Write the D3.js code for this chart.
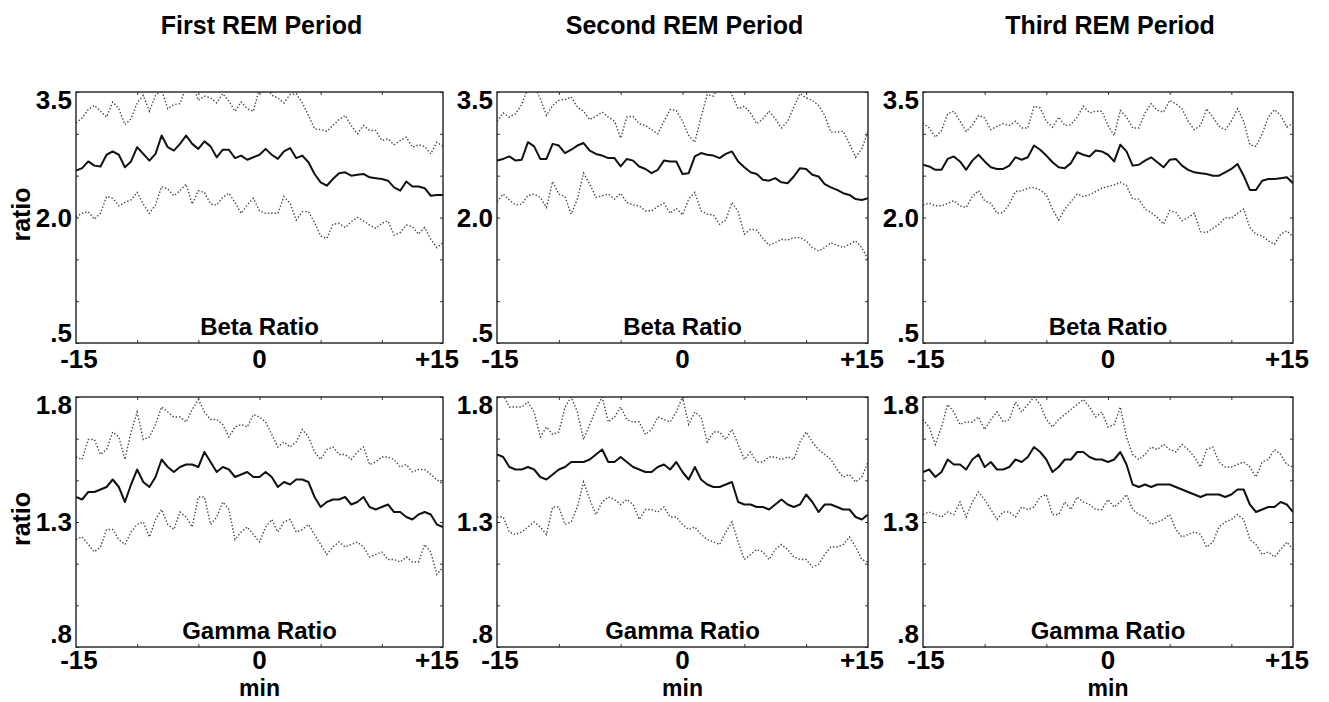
<!DOCTYPE html>
<html>
<head>
<meta charset="utf-8">
<script src="https://cdn.jsdelivr.net/npm/d3@7"></script>
<style>
  body { margin: 0; background: #fff; }
  svg { font-family: "Liberation Sans", Arial, sans-serif; font-weight: bold; }
</style>
</head>
<body>
<div id="svg_container"></div>
<script>

const canvas = {
    w: 1329,
    h: 702
};

// x axis: minutes around REM onset, one sample every 30 s
const minutes = d3.range(-15, 15.001, 0.5);

const periods = ["First REM Period", "Second REM Period", "Third REM Period"];

// Beta ratio, mean and upper / lower bands
const beta1Mean = [2.56,2.59,2.67,2.62,2.61,2.75,2.79,2.75,2.60,2.67,2.84,2.76,2.68,2.76,2.98,2.84,2.80,2.88,2.98,2.88,2.82,2.91,2.85,2.72,2.81,2.81,2.71,2.74,2.69,2.72,2.75,2.82,2.75,2.70,2.79,2.83,2.71,2.74,2.66,2.52,2.42,2.38,2.46,2.53,2.54,2.50,2.51,2.52,2.48,2.47,2.46,2.44,2.36,2.32,2.43,2.37,2.37,2.35,2.26,2.27,2.27];
const beta1Upper = [3.13,3.19,3.29,3.34,3.27,3.20,3.38,3.30,3.11,3.18,3.37,3.46,3.27,3.46,3.52,3.30,3.35,3.36,3.56,3.60,3.40,3.45,3.43,3.37,3.48,3.39,3.27,3.38,3.30,3.27,3.55,3.60,3.46,3.43,3.37,3.47,3.48,3.37,3.22,3.06,3.05,3.03,3.10,3.17,3.22,3.10,3.00,3.10,3.04,3.04,2.92,2.94,2.87,2.92,2.96,2.84,2.87,2.85,2.76,2.90,2.85];
const beta1Lower = [2.01,2.05,2.07,1.98,2.05,2.25,2.23,2.14,2.18,2.21,2.30,2.16,2.05,2.15,2.37,2.34,2.26,2.32,2.40,2.16,2.32,2.30,2.16,2.15,2.24,2.29,2.18,2.05,2.15,2.23,2.08,2.05,2.05,2.05,2.25,2.17,1.97,2.07,2.07,1.94,1.78,1.75,1.92,1.93,1.88,1.95,2.00,1.96,1.91,1.87,1.93,1.96,1.79,1.82,1.91,1.89,1.80,1.88,1.74,1.64,1.70];

const beta2Mean = [2.68,2.70,2.73,2.68,2.69,2.90,2.85,2.70,2.70,2.88,2.86,2.77,2.81,2.86,2.89,2.80,2.76,2.74,2.71,2.71,2.61,2.70,2.68,2.61,2.58,2.53,2.57,2.68,2.67,2.67,2.52,2.53,2.73,2.77,2.75,2.74,2.71,2.76,2.79,2.67,2.60,2.54,2.52,2.45,2.44,2.47,2.42,2.41,2.49,2.59,2.58,2.51,2.49,2.40,2.36,2.33,2.29,2.27,2.22,2.21,2.23];
const beta2Upper = [3.15,3.25,3.20,3.24,3.35,3.55,3.58,3.42,3.22,3.34,3.40,3.41,3.44,3.32,3.27,3.17,3.21,3.26,3.20,3.15,2.95,3.20,3.21,3.12,3.10,3.05,3.00,3.15,3.29,3.28,3.15,2.98,2.90,3.20,3.47,3.45,3.60,3.60,3.46,3.30,3.33,3.25,3.12,3.18,3.27,3.18,3.07,3.15,3.32,3.48,3.43,3.40,3.34,3.22,3.02,3.02,3.03,2.88,2.72,2.82,3.03];
const beta2Lower = [2.19,2.28,2.21,2.15,2.16,2.26,2.28,2.24,2.12,2.43,2.28,2.25,2.04,2.22,2.53,2.40,2.24,2.26,2.28,2.22,2.29,2.18,2.15,2.14,2.08,2.08,2.13,2.17,2.05,2.11,2.03,2.22,2.30,2.08,2.04,2.03,1.92,1.97,2.18,2.07,1.80,1.86,1.85,1.75,1.67,1.70,1.74,1.73,1.76,1.76,1.72,1.64,1.60,1.64,1.70,1.67,1.64,1.68,1.72,1.64,1.50];

const beta3Mean = [2.63,2.61,2.57,2.57,2.70,2.73,2.67,2.57,2.68,2.75,2.67,2.60,2.58,2.58,2.62,2.72,2.69,2.72,2.86,2.81,2.74,2.66,2.60,2.59,2.65,2.78,2.75,2.73,2.80,2.79,2.75,2.67,2.87,2.79,2.62,2.63,2.68,2.72,2.66,2.60,2.69,2.70,2.62,2.57,2.54,2.53,2.52,2.50,2.50,2.54,2.58,2.64,2.50,2.33,2.33,2.44,2.46,2.46,2.47,2.48,2.41];
const beta3Upper = [3.13,3.07,2.96,3.04,3.24,3.27,3.15,3.03,3.10,3.22,3.19,3.05,3.09,3.12,3.10,3.15,3.07,3.07,3.33,3.31,3.15,3.08,3.20,3.10,3.11,3.20,3.33,3.25,3.27,3.27,3.10,2.98,3.28,3.20,3.07,3.07,3.25,3.36,3.28,3.26,3.40,3.36,3.30,3.15,3.05,3.10,3.30,3.20,3.09,3.05,3.15,3.30,3.15,2.87,2.85,3.00,3.20,3.29,3.22,3.08,3.13];
const beta3Lower = [2.15,2.17,2.14,2.14,2.17,2.20,2.14,2.12,2.25,2.32,2.20,2.17,2.05,2.06,2.16,2.31,2.32,2.35,2.36,2.33,2.27,2.10,1.97,2.10,2.19,2.28,2.25,2.27,2.31,2.35,2.37,2.39,2.42,2.38,2.22,2.22,2.10,2.06,2.00,1.92,2.08,2.06,1.96,2.00,2.05,1.83,1.82,1.87,1.92,2.00,1.99,2.05,2.10,1.88,1.80,1.78,1.72,1.68,1.80,1.84,1.77];

// Gamma ratio, mean and upper / lower bands
const gamma1Mean = [1.40,1.39,1.42,1.42,1.43,1.44,1.47,1.44,1.38,1.45,1.51,1.46,1.44,1.48,1.55,1.52,1.50,1.52,1.53,1.53,1.52,1.58,1.54,1.50,1.52,1.51,1.48,1.49,1.50,1.48,1.48,1.50,1.48,1.44,1.46,1.45,1.47,1.47,1.46,1.40,1.36,1.38,1.39,1.39,1.40,1.37,1.38,1.40,1.36,1.35,1.36,1.37,1.34,1.34,1.32,1.31,1.33,1.34,1.33,1.29,1.28];
const gamma1Upper = [1.56,1.55,1.63,1.63,1.57,1.59,1.66,1.64,1.55,1.66,1.74,1.63,1.64,1.69,1.76,1.74,1.72,1.72,1.70,1.75,1.79,1.74,1.71,1.71,1.69,1.64,1.68,1.69,1.68,1.73,1.72,1.70,1.65,1.60,1.62,1.60,1.62,1.67,1.64,1.58,1.55,1.59,1.60,1.57,1.57,1.55,1.58,1.60,1.53,1.54,1.56,1.56,1.55,1.52,1.53,1.50,1.51,1.51,1.49,1.47,1.45];
const gamma1Lower = [1.23,1.24,1.21,1.18,1.20,1.27,1.27,1.23,1.21,1.26,1.29,1.30,1.24,1.31,1.35,1.29,1.27,1.34,1.32,1.28,1.40,1.40,1.29,1.32,1.38,1.35,1.23,1.26,1.28,1.25,1.22,1.28,1.31,1.26,1.30,1.31,1.26,1.27,1.29,1.25,1.21,1.17,1.20,1.22,1.20,1.21,1.22,1.20,1.16,1.17,1.18,1.15,1.15,1.14,1.16,1.14,1.14,1.21,1.18,1.09,1.12];

const gamma2Mean = [1.57,1.56,1.52,1.51,1.51,1.52,1.51,1.48,1.47,1.49,1.51,1.52,1.54,1.54,1.54,1.55,1.57,1.59,1.54,1.54,1.56,1.54,1.52,1.51,1.50,1.50,1.52,1.53,1.51,1.54,1.50,1.47,1.52,1.47,1.45,1.44,1.44,1.45,1.46,1.38,1.37,1.37,1.36,1.36,1.35,1.37,1.39,1.37,1.36,1.37,1.41,1.38,1.34,1.37,1.37,1.36,1.35,1.35,1.32,1.31,1.33];
const gamma2Upper = [1.82,1.81,1.76,1.76,1.76,1.78,1.74,1.64,1.68,1.65,1.66,1.76,1.80,1.74,1.63,1.69,1.75,1.80,1.70,1.72,1.76,1.71,1.70,1.70,1.65,1.67,1.72,1.71,1.70,1.74,1.80,1.69,1.74,1.72,1.62,1.66,1.66,1.63,1.67,1.61,1.55,1.58,1.54,1.54,1.56,1.56,1.55,1.56,1.55,1.62,1.66,1.62,1.59,1.57,1.55,1.51,1.48,1.49,1.46,1.48,1.54];
const gamma2Lower = [1.32,1.32,1.26,1.25,1.26,1.28,1.30,1.28,1.25,1.36,1.36,1.29,1.30,1.36,1.46,1.39,1.33,1.38,1.40,1.39,1.37,1.39,1.37,1.31,1.35,1.35,1.34,1.36,1.32,1.32,1.29,1.27,1.28,1.25,1.23,1.22,1.21,1.26,1.30,1.22,1.15,1.17,1.19,1.18,1.15,1.19,1.21,1.19,1.16,1.15,1.15,1.12,1.13,1.17,1.20,1.20,1.21,1.24,1.20,1.15,1.14];

const gamma3Mean = [1.50,1.51,1.48,1.50,1.55,1.53,1.53,1.51,1.55,1.57,1.52,1.54,1.51,1.51,1.52,1.55,1.54,1.56,1.60,1.58,1.55,1.50,1.52,1.55,1.55,1.58,1.58,1.56,1.55,1.55,1.54,1.55,1.58,1.53,1.45,1.44,1.45,1.44,1.45,1.45,1.45,1.44,1.43,1.42,1.41,1.40,1.41,1.41,1.41,1.40,1.41,1.43,1.43,1.37,1.34,1.35,1.36,1.36,1.38,1.37,1.34];
const gamma3Upper = [1.71,1.68,1.61,1.68,1.77,1.74,1.69,1.70,1.70,1.72,1.67,1.71,1.74,1.70,1.71,1.78,1.74,1.77,1.80,1.77,1.71,1.68,1.71,1.73,1.75,1.77,1.79,1.76,1.72,1.74,1.68,1.69,1.76,1.64,1.57,1.55,1.57,1.60,1.59,1.61,1.59,1.58,1.61,1.59,1.56,1.52,1.59,1.60,1.54,1.52,1.52,1.53,1.54,1.52,1.48,1.54,1.55,1.59,1.57,1.53,1.52];
const gamma3Lower = [1.33,1.34,1.33,1.32,1.34,1.33,1.38,1.32,1.38,1.42,1.39,1.35,1.31,1.34,1.34,1.32,1.36,1.35,1.36,1.40,1.41,1.33,1.33,1.38,1.35,1.40,1.38,1.37,1.35,1.35,1.39,1.36,1.38,1.41,1.35,1.33,1.32,1.29,1.30,1.31,1.33,1.27,1.24,1.25,1.26,1.25,1.20,1.22,1.28,1.30,1.31,1.33,1.31,1.23,1.21,1.17,1.18,1.16,1.19,1.22,1.19];

const xTicks = [-15, 0, 15];
const xTickLabels = ["-15", "0", "+15"];

const betaTicks = [3.5, 2.0, 0.5];
const betaTickLabels = ["3.5", "2.0", ".5"];
const gammaTicks = [1.8, 1.3, 0.8];
const gammaTickLabels = ["1.8", "1.3", ".8"];

const rows = [
    {
        name: "Beta Ratio",
        domain: [0.5, 3.5],
        ticks: betaTicks,
        tickLabels: betaTickLabels,
        minor: d3.range(0.5, 3.51, 0.5),
        series: [
            [beta1Mean, beta1Upper, beta1Lower],
            [beta2Mean, beta2Upper, beta2Lower],
            [beta3Mean, beta3Upper, beta3Lower]
        ]
    },
    {
        name: "Gamma Ratio",
        domain: [0.8, 1.8],
        ticks: gammaTicks,
        tickLabels: gammaTickLabels,
        minor: d3.range(0.8, 1.801, 1 / 6),
        series: [
            [gamma1Mean, gamma1Upper, gamma1Lower],
            [gamma2Mean, gamma2Upper, gamma2Lower],
            [gamma3Mean, gamma3Upper, gamma3Lower]
        ]
    }
];

const colLeft = [76, 497, 923];
const colRight = [443, 868, 1293];
const rowTop = [92, 397];
const rowBottom = [343, 647];

const svg = d3
    .select("#svg_container")
    .append("svg")
    .attr("width", canvas.w)
    .attr("height", canvas.h)
    .attr("viewBox", `0 0 ${canvas.w} ${canvas.h}`);

// column titles
svg.selectAll("text.title")
    .data(periods)
    .join("text")
    .attr("class", "title")
    .attr("x", (d, i) => (colLeft[i] + colRight[i]) / 2 + 2)
    .attr("y", 34)
    .attr("text-anchor", "middle")
    .attr("font-size", 25)
    .text(d => d);

rows.forEach((row, r) => {

    // "ratio" on the left of each row
    svg.append("text")
        .attr("transform", `translate(30,${(rowTop[r] + rowBottom[r]) / 2 - 3}) rotate(-90)`)
        .attr("text-anchor", "middle")
        .attr("font-size", 25)
        .text("ratio");

    row.series.forEach((lines, c) => {

        const x = d3.scaleLinear()
            .domain([-15, 15])
            .range([colLeft[c], colRight[c]]);

        const y = d3.scaleLinear()
            .domain(row.domain)
            .range([rowBottom[r], rowTop[r]]);

        const g = svg.append("g");

        const clipId = `clip-${r}-${c}`;
        g.append("clipPath")
            .attr("id", clipId)
            .append("rect")
            .attr("x", colLeft[c])
            .attr("y", rowTop[r])
            .attr("width", colRight[c] - colLeft[c])
            .attr("height", rowBottom[r] - rowTop[r]);

        // tiny inward ticks on the frame
        const tickLen = 3;
        g.append("g")
            .attr("transform", `translate(0,${rowBottom[r]})`)
            .call(d3.axisTop(x).tickValues([-10, -5, 5, 10]).tickSize(tickLen).tickFormat(""))
            .call(a => a.select(".domain").remove());
        g.append("g")
            .attr("transform", `translate(0,${rowTop[r]})`)
            .call(d3.axisBottom(x).tickValues([-10, -5, 0, 5, 10]).tickSize(tickLen).tickFormat(""))
            .call(a => a.select(".domain").remove());
        g.append("g")
            .attr("transform", `translate(${colLeft[c]},0)`)
            .call(d3.axisRight(y).tickValues(row.minor).tickSize(tickLen).tickFormat(""))
            .call(a => a.select(".domain").remove());
        g.append("g")
            .attr("transform", `translate(${colRight[c]},0)`)
            .call(d3.axisLeft(y).tickValues(row.minor).tickSize(tickLen).tickFormat(""))
            .call(a => a.select(".domain").remove());
        g.selectAll(".tick line").attr("stroke", "#333").attr("stroke-width", 1);

        const line = d3.line()
            .x((d, i) => x(minutes[i]))
            .y(d => y(d));

        const plot = g.append("g").attr("clip-path", `url(#${clipId})`);

        // dotted bands first, mean on top
        plot.selectAll("path.band")
            .data(lines.slice(1))
            .join("path")
            .attr("class", "band")
            .attr("d", line)
            .attr("fill", "none")
            .attr("stroke", "#444")
            .attr("stroke-width", 1.4)
            .attr("stroke-dasharray", "1.4,2");

        plot.append("path")
            .attr("d", line(lines[0]))
            .attr("fill", "none")
            .attr("stroke", "#111")
            .attr("stroke-width", 2)
            .attr("stroke-linejoin", "round");

        // frame
        g.append("rect")
            .attr("x", colLeft[c])
            .attr("y", rowTop[r])
            .attr("width", colRight[c] - colLeft[c])
            .attr("height", rowBottom[r] - rowTop[r])
            .attr("fill", "none")
            .attr("stroke", "#222")
            .attr("stroke-width", 1.4);

        // in-panel label
        g.append("text")
            .attr("x", (colLeft[c] + colRight[c]) / 2)
            .attr("y", rowBottom[r] - 8)
            .attr("text-anchor", "middle")
            .attr("font-size", 24)
            .text(row.name);

        // y tick labels
        const last = row.ticks.length - 1;
        g.selectAll("text.ylab")
            .data(row.ticks)
            .join("text")
            .attr("class", "ylab")
            .attr("x", colLeft[c] - 4)
            .attr("y", (d, i) => y(d) + (i === 0 ? 17 : (i === last ? (r === 1 ? -4 : -1) : 9)))
            .attr("text-anchor", "end")
            .attr("font-size", 26)
            .text((d, i) => row.tickLabels[i]);

        // x tick labels
        g.selectAll("text.xlab")
            .data(xTicks)
            .join("text")
            .attr("class", "xlab")
            .attr("x", d => x(d) + (d === 15 ? -6 : (d === -15 ? 3 : 0)))
            .attr("y", rowBottom[r] + (r === 1 ? 22 : 25))
            .attr("text-anchor", "middle")
            .attr("font-size", 26)
            .text((d, i) => xTickLabels[i]);

        if (r === 1) {
            g.append("text")
                .attr("x", (colLeft[c] + colRight[c]) / 2)
                .attr("y", 696)
                .attr("text-anchor", "middle")
                .attr("font-size", 23)
                .text("min");
        }
    });
});

</script>
</body>
</html>
